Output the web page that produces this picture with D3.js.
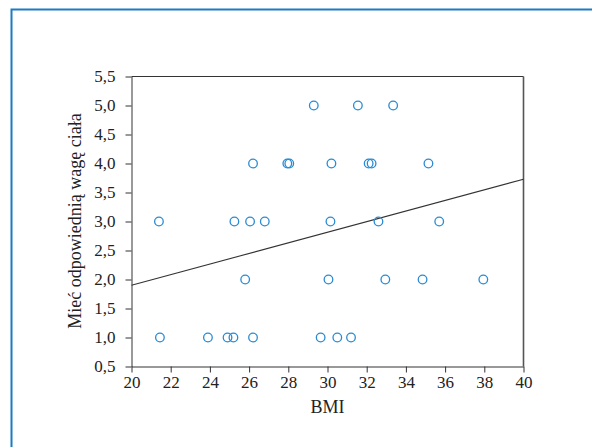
<!DOCTYPE html>
<html>
<head>
<meta charset="utf-8">
<script src="https://cdnjs.cloudflare.com/ajax/libs/d3/7.8.5/d3.min.js"></script>
<style>
  body { margin: 0; background: #fff; }
  svg { display: block; }
  .axis path, .axis line { stroke: #333; }
</style>
</head>
<body>
<script>
// points: BMI and answer score
var bmi   = [21.45, 23.9, 24.9, 25.2, 26.2, 29.65, 30.5, 31.2,
             25.8, 30.05, 32.95, 34.85, 37.95,
             21.4, 25.25, 26.05, 26.8, 30.15, 32.6, 35.7,
             26.2, 27.95, 28.05, 30.2, 32.1, 32.25, 35.15,
             29.3, 31.55, 33.35];
var score = [1, 1, 1, 1, 1, 1, 1, 1,
             2, 2, 2, 2, 2,
             3, 3, 3, 3, 3, 3, 3,
             4, 4, 4, 4, 4, 4, 4,
             5, 5, 5];
// fitted line endpoints
var fitX = [20, 40];
var fitY = [1.9, 3.73];

var xTicks = d3.range(20, 41, 2);
var yTicks = d3.range(0.5, 5.51, 0.5);

var W = 592, H = 447;
var margin = {top: 76.5, right: 68.5, bottom: 80.5, left: 131.5};
var width = W - margin.left - margin.right,
    height = H - margin.top - margin.bottom;
var serif = "'Liberation Serif', 'Times New Roman', serif";

var svg = d3.select("body").append("svg")
    .attr("width", W)
    .attr("height", H);

// blue frame (top and left only visible)
svg.append("path")
    .attr("d", "M11.5," + H + "V9.5H" + W)
    .attr("fill", "none")
    .attr("stroke", "#1b7cc2")
    .attr("stroke-width", 2);

var x = d3.scaleLinear().domain([20, 40]).range([0, width]);
var y = d3.scaleLinear().domain([0.5, 5.5]).range([height, 0]);

var g = svg.append("g")
    .attr("transform", "translate(" + margin.left + "," + margin.top + ")");

var fmt = function(d) { return d3.format(".1f")(d).replace(".", ","); };

g.append("g")
    .attr("class", "axis")
    .attr("transform", "translate(0," + height + ")")
    .call(d3.axisBottom(x).tickValues(xTicks).tickSize(6).tickSizeOuter(0).tickPadding(3))
    .attr("font-family", serif)
    .attr("font-size", 17)
    .selectAll("text").attr("fill", "#222");

g.append("g")
    .attr("class", "axis")
    .call(d3.axisLeft(y).tickValues(yTicks).tickFormat(fmt).tickSize(6).tickSizeOuter(0).tickPadding(10))
    .attr("font-family", serif)
    .attr("font-size", 17)
    .selectAll("text").attr("fill", "#222");

// top and right sides of the box
g.append("line")
    .attr("x1", 0).attr("x2", width)
    .attr("y1", 0).attr("y2", 0)
    .attr("stroke", "#333");
g.append("line")
    .attr("x1", width).attr("x2", width)
    .attr("y1", 0).attr("y2", height)
    .attr("stroke", "#555")
    .attr("stroke-width", 1.6);

g.append("line")
    .attr("x1", x(fitX[0])).attr("y1", y(fitY[0]))
    .attr("x2", x(fitX[1])).attr("y2", y(fitY[1]))
    .attr("stroke", "#333")
    .attr("stroke-width", 1.1);

g.selectAll("circle.pt")
    .data(bmi)
  .enter().append("circle")
    .attr("class", "pt")
    .attr("cx", function(d) { return x(d); })
    .attr("cy", function(d, i) { return y(score[i]); })
    .attr("r", 4.3)
    .attr("fill", "none")
    .attr("stroke", "#2a8bd3")
    .attr("stroke-width", 1.3);

svg.append("text")
    .attr("x", margin.left + width / 2)
    .attr("y", 413)
    .attr("text-anchor", "middle")
    .style("font-family", serif)
    .style("font-size", "18px")
    .attr("fill", "#222")
    .text("BMI");

svg.append("text")
    .attr("transform", "translate(81,221) rotate(-90)")
    .attr("text-anchor", "middle")
    .style("font-family", serif)
    .style("font-size", "18px")
    .attr("fill", "#222")
    .text("Mieć odpowiednią wagę ciała");
</script>
</body>
</html>
